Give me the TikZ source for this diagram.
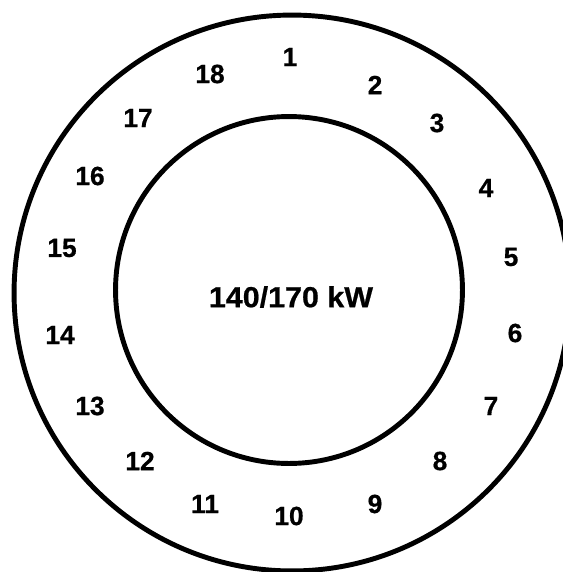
\documentclass[tikz,border=0pt]{standalone}
\usepackage{fontspec}
\setsansfont{Liberation Sans}
\newfontfamily\numfont{Liberation Sans}[FakeBold=0.6]
\newfontfamily\widefont{Liberation Sans}[FakeStretch=1.05,FakeBold=0.7]
\begin{document}
\begin{tikzpicture}[x=0.02cm,y=-0.02cm]
\tikzstyle{ring} = [line width=2.8pt]
\tikzstyle{slot} = [font=\numfont\bfseries\fontsize{15}{18}\selectfont,inner sep=0pt]
\useasboundingbox (0,0) rectangle (563,572);
%cercles
\draw[ring] (292,293) circle[radius=5.56cm];
\draw[ring] (289,290) circle[radius=3.47cm];
%puissance
\node[font=\widefont\bfseries\fontsize{16.5}{19}\selectfont,inner sep=0pt] (P) at (291,297) {140/170 kW};
%numéros
\node[slot] (n1) at (290,57) {1};
\node[slot] (n2) at (375,85) {2};
\node[slot] (n3) at (437,123) {3};
\node[slot] (n4) at (486,188) {4};
\node[slot] (n5) at (511,257) {5};
\node[slot] (n6) at (515,333) {6};
\node[slot] (n7) at (491,406) {7};
\node[slot] (n8) at (440,461) {8};
\node[slot] (n9) at (375,504) {9};
\node[slot] (n10) at (289,516) {10};
\node[slot] (n11) at (205,504) {11};
\node[slot] (n12) at (140,461) {12};
\node[slot] (n13) at (90,406) {13};
\node[slot] (n14) at (60,335) {14};
\node[slot] (n15) at (62,248) {15};
\node[slot] (n16) at (90,176) {16};
\node[slot] (n17) at (138,118) {17};
\node[slot] (n18) at (210,74) {18};
\end{tikzpicture}
\end{document}
